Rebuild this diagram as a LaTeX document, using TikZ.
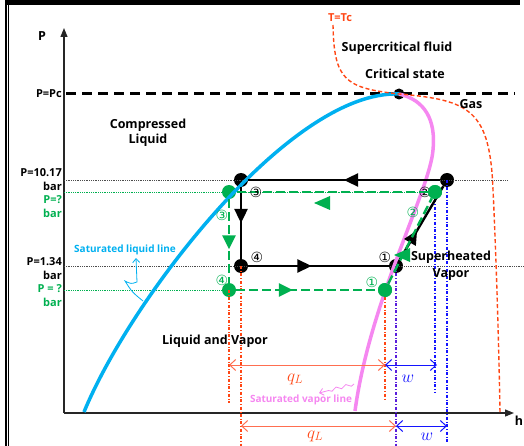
\documentclass[tikz,border=0pt]{standalone}
\usepackage{fontspec}
\setmainfont{Open Sans}
\newfontfamily\circfont{DejaVu Sans}
\usetikzlibrary{arrows.meta,decorations.markings,decorations.pathmorphing}

\definecolor{satliq}{RGB}{0,176,240}
\definecolor{satvap}{RGB}{245,135,240}
\definecolor{isotc}{RGB}{255,70,20}
\definecolor{cycgreen}{RGB}{0,176,80}
\definecolor{qline}{RGB}{255,110,80}
\definecolor{wline}{RGB}{20,20,255}
\definecolor{wqline}{RGB}{90,30,220}

\tikzset{
  txt/.style={font=\bfseries\fontsize{12.5}{15}\selectfont, inner sep=0pt, align=center},
  plabel/.style={font=\bfseries\fontsize{11}{14}\selectfont, inner sep=0pt, align=right, anchor=east},
  circnum/.style={font=\circfont\fontsize{14}{14}\selectfont, inner sep=0pt},
  bpt/.style={circle, fill=black, minimum size=14pt, inner sep=0pt},
  gpt/.style={circle, fill=cycgreen, minimum size=14pt, inner sep=0pt},
  blackcyc/.style={line width=2.4pt, black},
  greencyc/.style={line width=2.4pt, cycgreen, dash pattern=on 9pt off 4pt},
  midarrow/.style={postaction={decorate}, decoration={markings,
     mark=at position #1 with {\arrow{Triangle[length=14pt,width=13pt]}}}},
  guide/.style={black!70, densely dotted, line width=0.8pt},
  gguide/.style={cycgreen, densely dotted, line width=0.8pt},
  reddd/.style={isotc, dash dot, line width=1.2pt},
  bluedd/.style={wline, dash dot, line width=1.2pt},
  dimq/.style={qline, line width=1pt, {Straight Barb[length=6pt,width=11pt]}-{Straight Barb[length=6pt,width=11pt]}},
  dimw/.style={wline, line width=1pt, {Straight Barb[length=6pt,width=11pt]}-{Straight Barb[length=6pt,width=11pt]}},
  quant/.style={font=\fontsize{18}{18}\selectfont, inner sep=0pt},
}

\begin{document}
\begin{tikzpicture}[x=1pt, y=-1pt]
	\useasboundingbox (0,0) rectangle (524,446);

	% Rahmen
	\fill (5,0) rectangle (520,5.3);
	\draw[line width=2.3pt] (6.2,0) -- (6.2,446);
	\draw[line width=0.8pt] (8.8,0) -- (8.8,446);

	% Achsen
	\coordinate (O) at (64,413);
	\coordinate (ptop) at (64,28);
	\coordinate (hend) at (514,413);
	\draw[line width=1.2pt, black!85, -{Triangle[length=9pt,width=7pt]}] (O) -- (ptop);
	\draw[line width=1.2pt, black!85, -{Triangle[length=9pt,width=7pt]}] (O) -- (hend);
	\node[txt] (plab) at (42,36) {P};
	\node[txt] (hlab) at (519,421) {h};

	% Punkte
	\node[circle, fill=black, minimum width=11pt, minimum height=9pt, inner sep=0pt] (crit) at (399,94){};
	\node[bpt] (b3) at (241,180){};
	\node[bpt] (b2) at (447,180){};
	\node[bpt] (b4) at (241,266){};
	\node[bpt] (b1) at (396,266){};
	\node[gpt] (g3) at (229,192){};
	\node[gpt] (g2) at (435,192){};
	\node[gpt] (g4) at (229,290){};
	\node[gpt] (g1) at (385,290){};

	% Hilfslinien
	\coordinate (pc0) at (66,94);
	\coordinate (pc1) at (515,94);
	\coordinate (ph0) at (64,180);
	\coordinate (ph1) at (507,180);
	\coordinate (pl0) at (64,266);
	\coordinate (pl1) at (524,266);
	\coordinate (gh0) at (64,192);
	\coordinate (gl0) at (64,290);
	\draw[line width=3pt, dash pattern=on 10pt off 6pt] (pc0) -- (pc1);
	\draw[guide] (ph0) -- (ph1);
	\draw[guide] (pl0) -- (pl1);
	\draw[gguide] (gh0) -- (g2.center);
	\draw[gguide] (gl0) -- (g4.center);

	% Kurven
	\draw[satliq, line width=3.5pt] (84,412) .. controls (130,300) and (290,90) .. (crit.center);
	\draw[satvap, line width=3.5pt] (crit.center) .. controls (425,100) and (436,120) .. (433,150)
		.. controls (430,190) and (370,300) .. (355,411);
	\draw[isotc, line width=1.4pt, dash pattern=on 4pt off 2.5pt] (333,25) .. controls (334,80) and (345,88) .. (crit.center)
		.. controls (470,100) and (490,110) .. (493,190) .. controls (496,250) and (499,350) .. (500,413);

	% senkrechte Linien
	\coordinate (v4g) at (229,403);
	\coordinate (v4) at (241,446);
	\coordinate (v1g) at (385,400);
	\coordinate (v1) at (396,446);
	\coordinate (v2g) at (435,393);
	\coordinate (v2) at (447,443);
	\draw[reddd] (g4.center) -- (v4g);
	\draw[reddd] (b4.center) -- (v4);
	\draw[reddd] (g1.center) -- (v1g);
	\draw[wqline, dash dot, line width=1.4pt] (b1.center) -- (v1);
	\draw[bluedd] (g2.center) -- (v2g);
	\draw[bluedd] (b2.center) -- (v2);

	% Prozess
	\draw[blackcyc, midarrow=0.5] (b2) -- (b3);
	\draw[blackcyc, midarrow=0.5] (b3) -- (b4);
	\draw[blackcyc, midarrow=0.45] (b4) -- (b1);
	\draw[blackcyc, midarrow=0.4] (b1) -- (b2);
	\node[circnum] (n2) at (425,192) {②};
	\draw[greencyc] (g2) -- (g3);
	\draw[greencyc, midarrow=0.6] (g3) -- (g4);
	\draw[greencyc, midarrow=0.4] (g4) -- (g1);
	\draw[greencyc] (g1) -- (g2);
	\fill[cycgreen] (314,203) -- (330,196) -- (330,210) -- cycle;
	\fill[cycgreen] (394,255) -- (410,248) -- (410,262) -- cycle;
	\node[gpt] at (g2) {};
	\node[gpt] at (g1) {};

	\node[circnum] (n3) at (256,192) {③};
	\node[circnum] (n4) at (257,257) {④};
	\node[circnum] (n1) at (385,257) {①};
	\node[circnum, cycgreen] (gn3) at (222,215) {③};
	\node[circnum, cycgreen] (gn4) at (222,280) {④};
	\node[circnum, cycgreen] (gn1) at (372,282) {①};
	\node[circnum, cycgreen] (gn2) at (413,212) {②};

	% q und w
	\coordinate (qa) at (229,365);
	\coordinate (qb) at (385,365);
	\coordinate (wb) at (437,365);
	\coordinate (qc) at (241,426);
	\coordinate (qd) at (396,426);
	\coordinate (wd) at (447,426);
	\draw[dimq] (qa) -- (qb);
	\draw[dimw] (qb) -- (wb);
	\draw[dimq] (qc) -- (qd);
	\draw[dimw] (qd) -- (wd);
	\node[quant, isotc] (q1) at (295,379) {$q_L$};
	\node[quant, wline] (w1) at (408,379) {$w$};
	\node[quant, isotc] (q2) at (315,436) {$q_L$};
	\node[quant, wline] (w2) at (427,437) {$w$};

	% Beschriftungen
	\node[txt, isotc, font=\bfseries\fontsize{11}{12}\selectfont] (tc) at (340,18) {T=Tc};
	\node[txt] (scf) at (397,48) {Supercritical fluid};
	\node[txt] (cs) at (405,74) {Critical state};
	\node[txt] (gas) at (471,104) {Gas};
	\node[txt] (cl) at (148,133) {Compressed\\Liquid};
	\node[txt] (lv) at (215,341) {Liquid and Vapor};
	\node[txt, font=\bfseries\fontsize{12.5}{17}\selectfont] (shv) at (451,266) {Superheated\\Vapor};

	\node[plabel] (ppc) at (62,94) {P=Pc};
	\node[plabel] (phi) at (62,180) {P=10.17\\bar};
	\node[plabel, cycgreen] (pgh) at (62,207) {P=?\\bar};
	\node[plabel] (plo) at (62,269) {P=1.34\\bar};
	\node[plabel, cycgreen] (pgl) at (62,296) {P = ?\\bar};

	\node[txt, satliq, font=\bfseries\fontsize{10}{11}\selectfont] (sll) at (125,250) {Saturated liquid line};
	\coordinate (sla) at (143,301);
	\coordinate (slb) at (136,258);
	\draw[satliq, line width=0.8pt, -{Straight Barb[length=4pt,width=7pt]}] (sla) .. controls (132,292) .. (125,281)
		.. controls (131,284) .. (137,282) -- (slb);
	\node[txt, satvap, font=\bfseries\fontsize{10}{11}\selectfont] (svl) at (301,400) {Saturated vapor line};
	\coordinate (sva) at (354,384);
	\coordinate (svb) at (319,393);
	\draw[satvap, line width=0.8pt, -{Straight Barb[length=4pt,width=7pt]},
		decorate, decoration={snake, amplitude=1.5pt, segment length=10pt, post length=5pt}] (sva) -- (svb);
\end{tikzpicture}
\end{document}
